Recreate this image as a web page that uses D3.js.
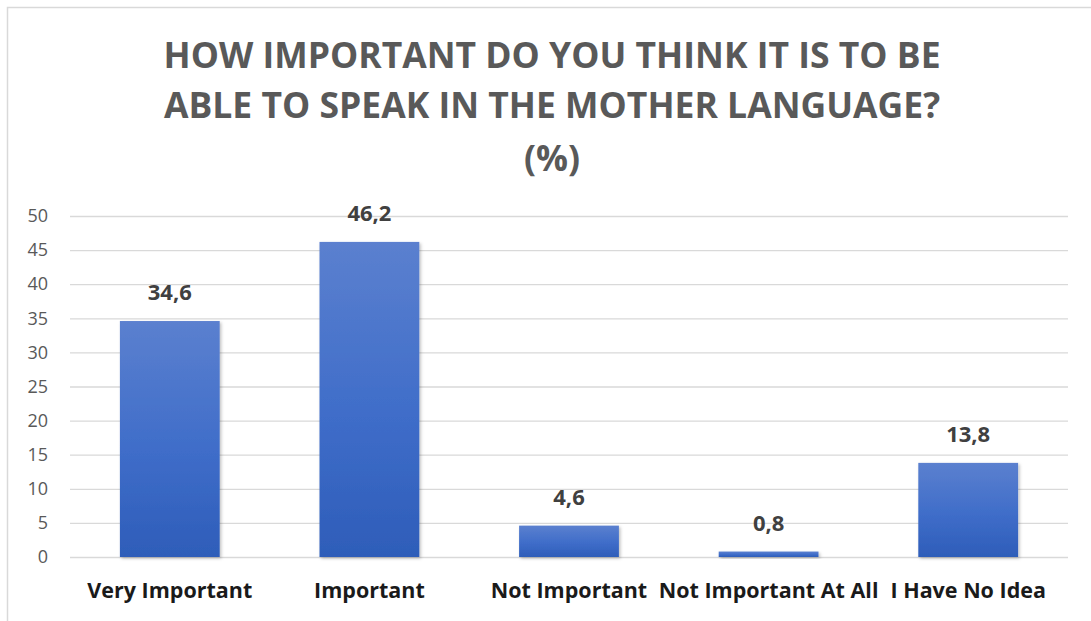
<!DOCTYPE html>
<html>
<head>
<meta charset="utf-8">
<script src="https://cdn.jsdelivr.net/npm/d3@7"></script>
<style>
  html, body { margin: 0; padding: 0; background: #fff; }
  svg { display: block; }
</style>
</head>
<body>
<svg id="chart" width="1091" height="621"></svg>
<script>
// chart data
var categories = ["Very Important", "Important", "Not Important", "Not Important At All", "I Have No Idea"]
var values = [34.6, 46.2, 4.6, 0.8, 13.8]
var valueLabels = ["34,6", "46,2", "4,6", "0,8", "13,8"]
var yTicks = [0, 5, 10, 15, 20, 25, 30, 35, 40, 45, 50]
var titleLines = ["HOW IMPORTANT DO YOU THINK IT IS TO BE", "ABLE TO SPEAK IN THE MOTHER LANGUAGE?", "(%)"]

var svg = d3.select("#chart")
var font = "'Open Sans', 'Liberation Sans', sans-serif"

var margin = {top: 216, right: 23, bottom: 64, left: 70},
    width = 1091 - margin.left - margin.right,
    height = 621 - margin.top - margin.bottom

// outer frame (only top/left edges show in the crop)
svg.append("rect")
    .attr("x", 7.5).attr("y", 7.5)
    .attr("width", 1100).attr("height", 700)
    .attr("fill", "none")
    .attr("stroke", "#d9d9d9")
    .attr("stroke-width", 1.5)

var defs = svg.append("defs")
var grad = defs.append("linearGradient")
    .attr("id", "barGrad")
    .attr("x1", 0).attr("y1", 0).attr("x2", 0).attr("y2", 1)
grad.append("stop").attr("offset", "0%").attr("stop-color", "#5b80cf")
grad.append("stop").attr("offset", "55%").attr("stop-color", "#3f6dc9")
grad.append("stop").attr("offset", "100%").attr("stop-color", "#2e5db9")

var shadow = defs.append("filter").attr("id", "shadow")
    .attr("x", "-10%").attr("y", "-10%").attr("width", "130%").attr("height", "130%")
shadow.append("feDropShadow")
    .attr("dx", 1.5).attr("dy", 1.5).attr("stdDeviation", 1.5)
    .attr("flood-color", "#000").attr("flood-opacity", 0.25)

// title
svg.append("g").selectAll("text")
    .data(titleLines)
    .enter().append("text")
    .attr("x", 552)
    .attr("y", function(d, i) { return [68, 118, 171][i] })
    .attr("text-anchor", "middle")
    .attr("font-family", font)
    .attr("font-weight", "bold")
    .attr("font-size", 35.5)
    .attr("fill", "#595959")
    .text(function(d) { return d })

var g = svg.append("g")
    .attr("transform", "translate(" + margin.left + "," + margin.top + ")")

var x = d3.scaleBand()
    .domain(categories)
    .range([0, width])
    .paddingInner(0.5)
    .paddingOuter(0.25)

var y = d3.scaleLinear().domain([0, 50]).range([height, 0])

// gridlines
g.append("g")
    .attr("class", "grid")
    .call(d3.axisLeft(y).tickValues(yTicks).tickSize(-width).tickFormat(""))
    .call(function(s) { s.select(".domain").remove() })
    .selectAll("line")
    .attr("stroke", "#d9d9d9")
    .attr("stroke-width", 1.3)

// y axis labels
var yAxis = g.append("g")
    .call(d3.axisLeft(y).tickValues(yTicks).tickSize(0).tickPadding(22))
yAxis.select(".domain").remove()
yAxis.selectAll("text")
    .attr("font-family", font)
    .attr("font-size", 18)
    .attr("fill", "#595959")

// bars
g.selectAll(".bar")
    .data(values)
    .enter().append("rect")
    .attr("class", "bar")
    .attr("x", function(d, i) { return x(categories[i]) })
    .attr("width", x.bandwidth())
    .attr("y", function(d) { return y(d) })
    .attr("height", function(d) { return height - y(d) })
    .attr("fill", "url(#barGrad)")
    .attr("filter", "url(#shadow)")

// value labels
g.selectAll(".val")
    .data(values)
    .enter().append("text")
    .attr("class", "val")
    .attr("x", function(d, i) { return x(categories[i]) + x.bandwidth() / 2 })
    .attr("y", function(d) { return y(d) - 21 })
    .attr("text-anchor", "middle")
    .attr("font-family", font)
    .attr("font-weight", "bold")
    .attr("font-size", 22)
    .attr("fill", "#404040")
    .text(function(d, i) { return valueLabels[i] })

// x axis labels
var xAxis = g.append("g")
    .attr("transform", "translate(0," + height + ")")
    .call(d3.axisBottom(x).tickSize(0).tickPadding(26))
xAxis.select(".domain").remove()
xAxis.selectAll("text")
    .attr("font-family", font)
    .attr("font-weight", "bold")
    .attr("font-size", 21.5)
    .attr("fill", "#1a1a1a")
</script>
</body>
</html>
